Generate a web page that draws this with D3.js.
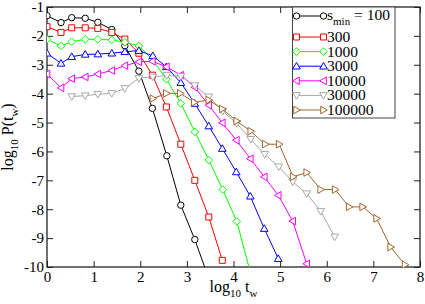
<!DOCTYPE html>
<html>
<head>
<meta charset="utf-8">
<script src="https://cdn.jsdelivr.net/npm/d3@7"></script>
<style>
  body { margin: 0; background: #fff; }
  svg { display: block; }
  svg text { font-family: "Liberation Serif", "DejaVu Serif", serif !important; fill: #000; }
</style>
</head>
<body>
<svg id="chart" width="425" height="304"></svg>
<script>
// values (log10 t_w , log10 P(t_w))
var logT100 = [0, 0.3, 0.53, 0.82, 1.09, 1.39, 1.67, 1.97, 2.26, 2.57, 2.87, 3.17, 3.47];
var logP100 = [-1.3, -1.54, -1.37, -1.39, -1.53, -1.78, -2.34, -3.22, -4.51, -6.15, -7.86, -9.05, -10.4];

var logT300 = [0, 0.3, 0.53, 0.82, 1.09, 1.39, 1.67, 1.97, 2.26, 2.56, 2.87, 3.17, 3.47, 3.76];
var logP300 = [-1.68, -1.88, -1.72, -1.72, -1.74, -1.88, -2.11, -2.6, -3.36, -4.46, -5.75, -7.0, -8.27, -9.77];

var logT1000 = [0, 0.3, 0.53, 0.82, 1.09, 1.39, 1.67, 1.97, 2.26, 2.56, 2.87, 3.17, 3.47, 3.77, 4.07, 4.37];
var logP1000 = [-2.12, -2.35, -2.2, -2.12, -2.12, -2.14, -2.22, -2.35, -2.81, -3.5, -4.34, -5.32, -6.3, -7.32, -8.42, -10.24];

var logT3000 = [0, 0.3, 0.53, 0.82, 1.09, 1.39, 1.67, 1.97, 2.27, 2.56, 2.87, 3.17, 3.47, 3.76, 4.06, 4.36, 4.66, 4.96];
var logP3000 = [-2.6, -2.95, -2.72, -2.64, -2.63, -2.6, -2.55, -2.51, -2.69, -3.07, -3.62, -4.34, -5.12, -5.9, -6.71, -7.55, -8.67, -9.71];

var logT10000 = [0, 0.3, 0.53, 0.82, 1.09, 1.39, 1.67, 1.97, 2.26, 2.56, 2.87, 3.17, 3.47, 3.76, 4.06, 4.36, 4.66, 4.96, 5.27, 5.57];
var logP10000 = [-3.32, -3.8, -3.48, -3.42, -3.32, -3.2, -3.03, -2.9, -2.88, -3.07, -3.36, -3.78, -4.4, -5.01, -5.61, -6.25, -6.88, -7.52, -8.41, -9.89];

var logT30000 = [0.53, 0.82, 1.09, 1.39, 1.67, 1.97, 2.27, 2.57, 2.87, 3.17, 3.47, 3.77, 4.07, 4.37, 4.67, 4.97, 5.27, 5.57, 5.87, 6.17];
var logP30000 = [-4.1, -4.07, -4.02, -3.99, -3.82, -3.47, -3.42, -3.37, -3.4, -3.72, -4.11, -4.6, -5.03, -5.58, -6.1, -6.53, -7.05, -7.46, -8.07, -8.96];

var logT100000 = [2.27, 2.56, 2.86, 3.16, 3.47, 3.76, 4.07, 4.37, 4.68, 4.98, 5.28, 5.57, 5.87, 6.18, 6.48, 6.77, 7.07, 7.37, 7.68];
var logP100000 = [-4.17, -3.99, -3.99, -4.3, -4.22, -4.53, -4.95, -5.3, -5.75, -5.75, -6.88, -6.73, -7.32, -7.32, -7.92, -7.92, -8.32, -9.31, -9.92];

var legendLabels = ["100", "300", "1000", "3000", "10000", "30000", "100000"];
var xTicks = [0, 1, 2, 3, 4, 5, 6, 7, 8];
var yTicks = [-1, -2, -3, -4, -5, -6, -7, -8, -9, -10];

var series = [
  { x: logT100, y: logP100, color: "#000000", sym: "circle" },
  { x: logT300, y: logP300, color: "#ff0000", sym: "square" },
  { x: logT1000, y: logP1000, color: "#00ff00", sym: "diamond" },
  { x: logT3000, y: logP3000, color: "#0000ff", sym: "up" },
  { x: logT10000, y: logP10000, color: "#ff00ff", sym: "left" },
  { x: logT30000, y: logP30000, color: "#a8a8a8", sym: "down" },
  { x: logT100000, y: logP100000, color: "#a0672c", sym: "right" }
];

var margin = { left: 47, right: 5, top: 7, bottom: 37 };
var width = 425, height = 304;
var serif = "Liberation Serif, DejaVu Serif, serif";

var svg = d3.select("#chart");

var x = d3.scaleLinear().domain([0, 8]).range([margin.left, width - margin.right]);
var y = d3.scaleLinear().domain([-10, -1]).range([height - margin.bottom, margin.top]);

svg.append("defs").append("clipPath").attr("id", "plotclip")
  .append("rect")
  .attr("x", x(0)).attr("y", y(-1))
  .attr("width", x(8) - x(0)).attr("height", y(-10) - y(-1));

// axes, ticks pointing inwards on all four sides
var tickLen = 6;
svg.append("g")
  .attr("transform", "translate(0," + y(-10) + ")")
  .call(d3.axisBottom(x).tickValues(xTicks).tickSizeInner(-tickLen).tickSizeOuter(0).tickPadding(4).tickFormat(d => String(d)))
  .call(g => g.attr("font-family", serif).selectAll("text").attr("font-size", 15));
svg.append("g")
  .attr("transform", "translate(0," + y(-1) + ")")
  .call(d3.axisTop(x).tickValues(xTicks).tickSizeInner(-tickLen).tickSizeOuter(0).tickFormat(""));
svg.append("g")
  .attr("transform", "translate(" + x(0) + ",0)")
  .call(d3.axisLeft(y).tickValues(yTicks).tickSizeInner(-tickLen).tickSizeOuter(0).tickPadding(3).tickFormat(d => String(d)))
  .call(g => g.attr("font-family", serif).selectAll("text").attr("font-size", 15));
svg.append("g")
  .attr("transform", "translate(" + x(8) + ",0)")
  .call(d3.axisRight(y).tickValues(yTicks).tickSizeInner(-tickLen).tickSizeOuter(0).tickFormat(""));

svg.selectAll(".domain").remove();
svg.selectAll(".tick line").attr("stroke", "#222");
svg.append("rect")
  .attr("x", x(0)).attr("y", y(-1))
  .attr("width", x(8) - x(0)).attr("height", y(-10) - y(-1))
  .attr("fill", "none").attr("stroke", "#222").attr("stroke-width", 1.3);

// symbol path around 0,0
function symbolPath(sym) {
  switch (sym) {
    case "circle": return "M3.2,0A3.2,3.2 0 1,1 -3.2,0A3.2,3.2 0 1,1 3.2,0Z";
    case "square": return "M-3,-3H3V3H-3Z";
    case "diamond": return "M0,-3.8L3.8,0L0,3.8L-3.8,0Z";
    case "up": return "M0,-3.8L3.8,2.8H-3.8Z";
    case "down": return "M0,3.8L3.8,-2.8H-3.8Z";
    case "left": return "M-3.8,0L2.8,-3.8V3.8Z";
    case "right": return "M3.8,0L-2.8,-3.8V3.8Z";
  }
}

var plot = svg.append("g").attr("clip-path", "url(#plotclip)");
var line = d3.line().x(d => x(d[0])).y(d => y(d[1]));

series.forEach(function (s) {
  var pts = s.x.map((v, i) => [v, s.y[i]]);
  var g = plot.append("g");
  g.append("path")
    .attr("d", line(pts))
    .attr("fill", "none")
    .attr("stroke", s.color)
    .attr("stroke-width", 1);
  g.selectAll("path.sym")
    .data(pts)
    .enter().append("path")
    .attr("class", "sym")
    .attr("d", symbolPath(s.sym))
    .attr("transform", d => "translate(" + x(d[0]) + "," + y(d[1]) + ")")
    .attr("fill", "#fff")
    .attr("stroke", s.color)
    .attr("stroke-width", 1);
});

// legend
var legend = svg.append("g").attr("font-family", serif);
legend.append("rect")
  .attr("x", 292.5).attr("y", 7)
  .attr("width", 102.5).attr("height", 111)
  .attr("fill", "#fff").attr("stroke", "#444").attr("stroke-width", 1);

var rowY = [16, 37, 51.6, 66.2, 80.8, 95.4, 110];
series.forEach(function (s, i) {
  var ry = rowY[i];
  legend.append("line")
    .attr("x1", 296.5).attr("x2", 323.5)
    .attr("y1", ry).attr("y2", ry)
    .attr("stroke", s.color).attr("stroke-width", 1);
  [296.5, 323.5].forEach(function (lx) {
    legend.append("path")
      .attr("d", symbolPath(s.sym))
      .attr("transform", "translate(" + lx + "," + ry + ")")
      .attr("fill", "#fff").attr("stroke", s.color).attr("stroke-width", 1);
  });
  var t = legend.append("text")
    .attr("x", 327).attr("y", ry + 5)
    .attr("font-size", 15.5);
  if (i === 0) {
    t.attr("y", ry + 4);
    t.append("tspan").text("s");
    t.append("tspan").attr("font-size", 11).attr("dy", 5).text("min");
    t.append("tspan").attr("dy", -5).text(" = " + legendLabels[i]);
  } else {
    t.text(legendLabels[i]);
  }
});

// axis titles
var xt = svg.append("text")
  .attr("x", (x(0) + x(8)) / 2).attr("y", 292)
  .attr("font-family", serif)
  .attr("text-anchor", "middle").attr("font-size", 16);
xt.append("tspan").text("log");
xt.append("tspan").attr("font-size", 11).attr("dy", 5).text("10");
xt.append("tspan").attr("dy", -5).text(" t");
xt.append("tspan").attr("font-size", 11).attr("dy", 5).text("w");

var yt = svg.append("text")
  .attr("transform", "translate(13," + (y(-1) + y(-10)) / 2 + ") rotate(-90)")
  .attr("font-family", serif)
  .attr("text-anchor", "middle").attr("font-size", 16);
yt.append("tspan").text("log");
yt.append("tspan").attr("font-size", 11).attr("dy", 5).text("10");
yt.append("tspan").attr("dy", -5).text(" P(t");
yt.append("tspan").attr("font-size", 11).attr("dy", 5).text("w");
yt.append("tspan").attr("dy", -5).text(")");
</script>
</body>
</html>
